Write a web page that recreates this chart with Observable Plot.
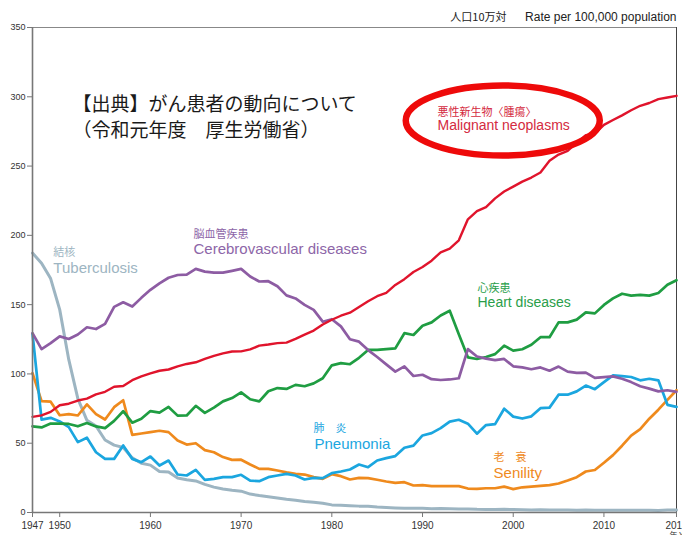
<!DOCTYPE html>
<html>
<head>
<meta charset="utf-8">
<script src="https://cdn.jsdelivr.net/npm/d3@7"></script>
<script src="https://cdn.jsdelivr.net/npm/@observablehq/plot@0.6"></script>
<style>
  html, body { margin: 0; padding: 0; background: #fff; }
  #chart { width: 682px; height: 535px; overflow: hidden; }
</style>
</head>
<body>
<div id="chart"></div>
<script>
const years = d3.range(1947, 2019);

const malignant = [69.0, 70.1, 72.6, 77.4, 78.5, 80.8, 82.2, 85.3, 87.1, 90.7,
  91.3, 95.5, 98.2, 100.4, 102.3, 103.2, 105.5, 107.2, 108.4, 110.8,
  113.0, 114.8, 116.2, 116.3, 117.7, 120.4, 121.2, 122.2, 122.6, 125.3,
  128.4, 131.3, 135.7, 139.1, 142.0, 144.2, 148.3, 152.5, 156.1, 158.5,
  164.2, 168.4, 173.6, 177.2, 181.7, 187.8, 190.4, 196.4, 211.6, 217.5,
  220.4, 226.7, 231.6, 235.2, 238.8, 241.7, 245.4, 253.9, 258.3, 261.0,
  266.9, 272.3, 273.5, 279.7, 283.2, 286.6, 290.3, 293.5, 295.5, 298.3,
  299.5, 300.7];

const heart = [62.2, 61.4, 64.2, 64.2, 63.9, 62.2, 64.6, 62.1, 60.9, 66.1,
  73.1, 64.8, 67.6, 73.2, 72.1, 76.2, 69.9, 70.0, 77.0, 71.9,
  75.7, 80.2, 82.6, 86.7, 81.7, 80.2, 87.5, 89.8, 89.2, 92.1,
  91.1, 93.2, 96.9, 106.2, 107.8, 107.0, 111.6, 117.3, 117.3, 117.9,
  118.4, 129.4, 128.1, 134.8, 137.2, 142.2, 145.6, 128.6, 112.0, 110.8,
  112.2, 114.3, 120.4, 116.8, 117.8, 121.0, 126.5, 126.5, 137.2, 137.2,
  139.2, 144.4, 143.7, 149.8, 154.5, 157.9, 156.5, 157.0, 156.5, 158.4,
  164.3, 167.6];

const cerebro = [129.4, 117.9, 122.2, 127.1, 125.2, 128.5, 133.7, 132.4, 136.1, 148.4,
  151.7, 148.6, 154.9, 160.7, 165.4, 169.4, 171.4, 171.7, 175.8, 173.8,
  173.1, 173.1, 174.4, 175.8, 170.3, 166.7, 166.9, 163.3, 156.7, 154.5,
  149.8, 146.2, 137.7, 139.5, 134.3, 125.0, 123.3, 117.2, 112.2, 106.9,
  101.7, 105.5, 98.5, 99.4, 96.2, 95.6, 96.0, 96.9, 117.9, 112.6,
  111.0, 110.0, 110.8, 105.5, 104.7, 103.4, 104.7, 102.3, 105.3, 101.7,
  100.8, 100.9, 97.2, 97.7, 98.2, 96.5, 94.1, 91.1, 89.4, 87.4,
  88.2, 87.1];

const pneumonia = [129, 67, 68.3, 65.7, 61.6, 50.8, 54, 43.5, 38.7, 38.7,
  48.4, 38.7, 36.3, 40.4, 33.9, 37.5, 27.4, 26.7, 30.8, 23.6,
  24.3, 25.5, 25.5, 27.2, 23, 22.6, 25.5, 26.7, 27.9, 26.7,
  23.8, 25, 24.8, 28.4, 29.6, 31, 34.6, 32.7, 37.5, 39.2,
  40.7, 46.7, 48.3, 55.6, 57.3, 60.9, 65.6, 66.9, 64.1, 56.9,
  63.1, 63.8, 74.9, 69.2, 67.8, 69.4, 75.3, 75.7, 85.0, 85.0,
  87.4, 91.6, 89.0, 94.1, 98.9, 98.4, 97.8, 95.4, 96.5, 95.4,
  77.7, 76.2];

const senility = [100.6, 80.4, 80, 70.2, 71, 70, 78, 71, 67.1, 76,
  81, 56, 57, 58.0, 59, 58, 52, 49, 50, 45,
  43.5, 40, 38, 38.1, 34.6, 31.5, 31.5, 30.3, 29, 27.9,
  27.4, 25.5, 24.3, 27.6, 26.2, 23.8, 25, 24.8, 23.6, 22.4,
  21.4, 21.9, 19.5, 19.7, 19, 19, 19, 19, 17.3, 17,
  17.5, 17.5, 18.7, 16.9, 18.2, 18.7, 19.2, 19.7, 20.9, 23.1,
  25.5, 29.6, 30.7, 35.9, 41.4, 48.2, 55.5, 60.1, 67.7, 74.2,
  81.3, 88.2];

const tuberculosis = [187.2, 179.9, 168.8, 146.4, 110.3, 82.2, 66.5, 62.4, 52.3, 48.6,
  46.9, 39.4, 35.5, 34.2, 29.6, 29.3, 24.9, 23.6, 22.8, 20.3,
  18.3, 17.0, 16.1, 15.4, 13.3, 12.2, 11.3, 10.5, 9.5, 8.9,
  8.0, 7.4, 6.7, 5.5, 5.3, 4.9, 4.6, 4.5, 3.9, 3.6,
  3.3, 3.1, 3.1, 3.0, 2.7, 2.8, 2.7, 2.6, 2.6, 2.3,
  2.2, 2.2, 2.3, 2.1, 2.0, 1.8, 1.9, 1.8, 1.8, 1.8,
  1.7, 1.8, 1.7, 1.7, 1.7, 1.7, 1.7, 1.7, 1.6, 1.5,
  1.8, 1.8];

const xTicks = [1947, 1950, 1960, 1970, 1980, 1990, 2000, 2010, 2018];
const yTicks = [0, 50, 100, 150, 200, 250, 300, 350];

const series = [
  {name: "tuberculosis", values: tuberculosis, color: "#9db5c2", w: 3},
  {name: "senility", values: senility, color: "#ef8a1d", w: 2.7},
  {name: "pneumonia", values: pneumonia, color: "#1ba6df", w: 2.7},
  {name: "heart", values: heart, color: "#1f9d42", w: 2.7},
  {name: "cerebro", values: cerebro, color: "#8d5ca3", w: 2.7},
  {name: "malignant", values: malignant, color: "#e0142c", w: 2.4}
];

const rows = s => years.map((yr, i) => ({year: yr, value: s.values[i]}));

const jp = "'Noto Sans CJK JP', 'Liberation Sans', sans-serif";
const en = "'Liberation Sans', Arial, sans-serif";

function label(text, x, y, color, size, font, extra = {}) {
  return Plot.text([text], {
    x: () => x, y: () => y, text: d => d,
    textAnchor: "start", lineAnchor: "middle",
    fill: color, fontSize: size, fontFamily: font, ...extra
  });
}

const ellipseMark = (index, scales) => {
  const e = document.createElementNS("http://www.w3.org/2000/svg", "ellipse");
  e.setAttribute("cx", scales.x(1998.9));
  e.setAttribute("cy", scales.y(282.5));
  e.setAttribute("rx", 97);
  e.setAttribute("ry", 35);
  e.setAttribute("fill", "none");
  e.setAttribute("stroke", "#ee0a0a");
  e.setAttribute("stroke-width", 6.5);
  return e;
};

const chart = Plot.plot({
  width: 682,
  height: 535,
  marginLeft: 32,
  marginRight: 6,
  marginTop: 27,
  marginBottom: 23,
  style: {fontFamily: en, fontSize: "10px", background: "#fff", color: "#333", overflow: "hidden"},
  x: {domain: [1947, 2018]},
  y: {domain: [0, 350]},
  marks: [
    Plot.ruleY([350], {stroke: "#888", strokeWidth: 1}),
    Plot.ruleX([2018], {stroke: "#444", strokeWidth: 1}),
    ...series.map(s => Plot.line(rows(s), {x: "year", y: "value", stroke: s.color, strokeWidth: s.w, strokeLinejoin: "round"})),
    Plot.ruleX([1947], {stroke: "#777", strokeWidth: 1.6}),
    Plot.ruleY([0], {stroke: "#777", strokeWidth: 1.6}),
    Plot.axisY({ticks: yTicks, tickSize: 5, tickPadding: 2, fontSize: 9, stroke: "#777", label: null, tickFormat: d => String(d)}),
    Plot.axisX({ticks: xTicks, tickSize: 5, tickPadding: 4, fontSize: 10, stroke: "#777", label: null, tickFormat: d => String(d)}),
    Plot.text(["年 Year"], {x: () => 2018, y: () => 0, text: d => d, dx: -7, dy: 23, textAnchor: "start", fontSize: 8, fill: "#333", fontFamily: jp}),
    Plot.text(["人口10万対"], {x: () => 2018, y: () => 357.2, text: d => d, dx: -170, textAnchor: "end", lineAnchor: "middle", fontSize: 11, fill: "#222", fontFamily: jp}),
    Plot.text(["Rate per 100,000 population"], {x: () => 2018, y: () => 357.2, text: d => d, textAnchor: "end", lineAnchor: "middle", fontSize: 12, fill: "#222", fontFamily: en}),
    ellipseMark,
    label("【出典】がん患者の動向について", 1951.4, 294.5, "#1a1a1a", 19, jp, {letterSpacing: "2px"}),
    label("（令和元年度　厚生労働省）", 1951.4, 275.5, "#1a1a1a", 19, jp, {letterSpacing: "2px"}),
    label("結核", 1949.3, 187.5, "#9db5c2", 11, jp),
    label("Tuberculosis", 1949.3, 176.5, "#9db5c2", 15, en),
    label("脳血管疾患", 1964.75, 200.8, "#8d66a8", 11, jp),
    label("Cerebrovascular diseases", 1964.75, 190.0, "#8d66a8", 15, en),
    label("悪性新生物〈腫瘍〉", 1991.65, 288.8, "#d42a40", 11, jp),
    label("Malignant neoplasms", 1991.65, 279.0, "#d42a40", 14, en),
    label("心疾患", 1996.06, 161.6, "#2a9e4a", 11, jp),
    label("Heart diseases", 1996.06, 151.2, "#2a9e4a", 14, en),
    label("肺　炎", 1977.98, 61.0, "#1ba6df", 11, jp),
    label("Pneumonia", 1978.09, 49.6, "#1ba6df", 15, en),
    label("老　衰", 1997.83, 39.8, "#ef8a1d", 11, jp),
    label("Senility", 1997.83, 28.6, "#ef8a1d", 15, en)
  ]
});

document.getElementById("chart").appendChild(chart);
</script>
</body>
</html>
